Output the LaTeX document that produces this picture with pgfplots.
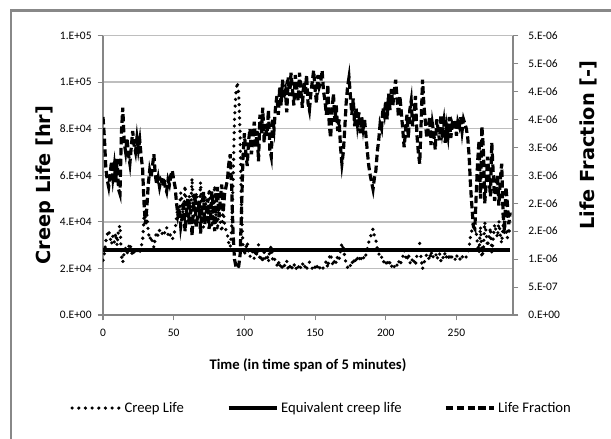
\documentclass[border=0pt]{standalone}
\usepackage{fontspec}
\setmainfont{Carlito}
\newfontfamily\verd{DejaVu Sans}
\usepackage{pgfplots}
\usepackage{pgfplotstable}
\pgfplotsset{compat=1.18}
\definecolor{axgray}{HTML}{868686}
\definecolor{gridgray}{HTML}{BEBEBE}
\definecolor{bordergray}{HTML}{888888}

\pgfplotstableread{
x cl lf
0 23500 3.542e-6
1 26300 3.167e-6
2 31700 2.625e-6
3 34500 2.417e-6
4 36400 2.292e-6
5 33300 2.500e-6
6 30300 2.750e-6
7 33900 2.458e-6
8 31300 2.667e-6
9 35100 2.375e-6
10 29900 2.792e-6
11 37000 2.250e-6
12 38500 2.167e-6
13 25600 3.250e-6
14 22500 3.708e-6
15 27000 3.083e-6
16 28600 2.917e-6
17 26300 3.167e-6
18 29000 2.875e-6
19 30800 2.708e-6
20 27800 3.000e-6
21 25300 3.292e-6
22 27400 3.042e-6
23 28600 2.917e-6
24 26300 3.167e-6
25 28200 2.958e-6
26 26700 3.125e-6
27 29400 2.833e-6
28 31700 2.625e-6
29 41700 2.000e-6
30 45000 1.625e-6
31 43500 1.917e-6
32 35700 2.333e-6
33 32300 2.583e-6
34 33900 2.458e-6
35 31300 2.667e-6
36 29000 2.875e-6
37 33300 2.500e-6
38 35700 2.333e-6
39 33900 2.458e-6
40 36400 2.292e-6
41 34500 2.417e-6
42 35100 2.375e-6
43 33900 2.458e-6
44 36400 2.292e-6
45 37700 2.208e-6
46 34500 2.417e-6
47 35700 2.333e-6
48 33300 2.500e-6
49 32300 2.583e-6
50 34500 2.417e-6
51 36400 2.292e-6
52 41700 2.000e-6
53 46500 1.792e-6
54 43500 1.917e-6
55 52600 1.583e-6
56 47600 1.750e-6
57 40800 2.042e-6
58 55600 1.500e-6
59 45500 1.833e-6
60 40000 2.083e-6
61 51300 1.625e-6
62 44400 1.875e-6
63 58800 1.417e-6
64 42600 1.958e-6
65 38500 2.167e-6
66 52600 1.583e-6
67 46500 1.792e-6
68 40800 2.042e-6
69 57100 1.458e-6
70 43500 1.917e-6
71 37700 2.208e-6
72 51300 1.625e-6
73 45500 1.833e-6
74 40000 2.083e-6
75 54100 1.542e-6
76 48800 1.708e-6
77 37700 2.208e-6
78 43500 1.917e-6
79 55600 1.500e-6
80 41700 2.000e-6
81 36400 2.292e-6
82 47600 1.750e-6
83 40000 2.083e-6
84 35700 2.333e-6
85 45500 1.833e-6
86 38500 2.167e-6
87 36400 2.292e-6
88 34500 2.417e-6
89 30800 2.708e-6
90 29000 2.875e-6
91 36400 2.292e-6
92 57100 1.458e-6
93 83300 1.000e-6
94 95200 0.875e-6
95 100000 0.833e-6
96 95200 0.875e-6
97 76900 1.083e-6
98 44400 1.875e-6
99 29400 2.833e-6
100 25600 3.250e-6
101 28600 2.917e-6
102 31300 2.667e-6
103 26700 3.125e-6
104 25000 3.333e-6
105 29000 2.875e-6
106 26300 3.167e-6
107 24100 3.458e-6
108 27800 3.000e-6
109 25300 3.292e-6
110 30300 2.750e-6
111 23300 3.583e-6
112 25600 3.250e-6
113 22500 3.708e-6
114 27000 3.083e-6
115 24400 3.417e-6
116 26000 3.208e-6
117 22700 3.667e-6
118 28200 2.958e-6
119 29400 2.833e-6
120 23800 3.500e-6
121 25000 3.333e-6
122 22500 3.708e-6
123 21300 3.917e-6
124 23300 3.583e-6
125 20400 4.083e-6
126 22200 3.750e-6
127 19800 4.208e-6
128 21500 3.875e-6
129 20800 4.000e-6
130 23000 3.625e-6
131 19600 4.250e-6
132 21300 3.917e-6
133 19200 4.333e-6
134 20600 4.042e-6
135 22200 3.750e-6
136 19400 4.292e-6
137 20400 4.083e-6
138 21700 3.833e-6
139 19200 4.333e-6
140 20800 4.000e-6
141 22500 3.708e-6
142 20000 4.167e-6
143 21100 3.958e-6
144 19400 4.292e-6
145 22000 3.792e-6
146 22700 3.667e-6
147 21100 3.958e-6
148 20000 4.167e-6
149 19000 4.375e-6
150 20600 4.042e-6
151 22000 3.792e-6
152 19400 4.292e-6
153 20400 4.083e-6
154 20000 4.167e-6
155 19000 4.375e-6
156 20800 4.000e-6
157 21700 3.833e-6
158 23300 3.583e-6
159 20200 4.125e-6
160 24400 3.417e-6
161 26300 3.167e-6
162 22700 3.667e-6
163 21100 3.958e-6
164 24100 3.458e-6
165 22200 3.750e-6
166 25300 3.292e-6
167 23800 3.500e-6
168 27800 3.000e-6
169 30800 2.708e-6
170 28600 2.917e-6
171 25000 3.333e-6
172 22000 3.792e-6
173 20400 4.083e-6
174 19600 4.250e-6
175 21300 3.917e-6
176 23300 3.583e-6
177 21500 3.875e-6
178 24700 3.375e-6
179 22500 3.708e-6
180 24400 3.417e-6
181 23000 3.625e-6
182 25600 3.250e-6
183 23500 3.542e-6
184 25000 3.333e-6
185 23800 3.500e-6
186 26000 3.208e-6
187 28600 2.917e-6
188 31300 2.667e-6
189 33300 2.500e-6
190 35100 2.375e-6
191 37000 2.250e-6
192 33900 2.458e-6
193 32300 2.583e-6
194 28600 2.917e-6
195 26700 3.125e-6
196 24400 3.417e-6
197 25000 3.333e-6
198 22500 3.708e-6
199 23300 3.583e-6
200 21700 3.833e-6
201 23800 3.500e-6
202 21100 3.958e-6
203 22700 3.667e-6
204 20600 4.042e-6
205 22200 3.750e-6
206 20800 4.000e-6
207 19800 4.208e-6
208 21500 3.875e-6
209 23500 3.542e-6
210 21300 3.917e-6
211 23000 3.625e-6
212 25000 3.333e-6
213 27800 3.000e-6
214 25300 3.292e-6
215 23300 3.583e-6
216 26300 3.167e-6
217 22700 3.667e-6
218 21700 3.833e-6
219 24700 3.375e-6
220 23000 3.625e-6
221 21300 3.917e-6
222 25600 3.250e-6
223 28600 2.917e-6
224 30800 2.708e-6
225 24400 3.417e-6
226 19800 4.208e-6
227 22200 3.750e-6
228 24100 3.458e-6
229 26300 3.167e-6
230 25000 3.333e-6
231 23500 3.542e-6
232 27400 3.042e-6
233 24400 3.417e-6
234 25600 3.250e-6
235 28200 2.958e-6
236 23800 3.500e-6
237 25000 3.333e-6
238 26700 3.125e-6
239 23300 3.583e-6
240 25300 3.292e-6
241 24100 3.458e-6
242 27000 3.083e-6
243 24700 3.375e-6
244 26000 3.208e-6
245 23500 3.542e-6
246 26300 3.167e-6
247 24400 3.417e-6
248 25000 3.333e-6
249 23800 3.500e-6
250 26000 3.208e-6
251 24100 3.458e-6
252 24700 3.375e-6
253 23500 3.542e-6
254 25300 3.292e-6
255 23800 3.500e-6
256 24400 3.417e-6
257 25000 3.333e-6
258 26300 3.167e-6
259 29400 2.833e-6
260 34000 2.292e-6
261 36500 1.917e-6
262 39500 1.583e-6
263 37000 1.542e-6
264 35500 2.167e-6
265 30300 2.750e-6
266 26700 3.125e-6
267 38000 2.083e-6
268 24700 3.375e-6
269 27800 3.000e-6
270 40000 2.000e-6
271 35700 2.333e-6
272 29400 2.833e-6
273 33300 2.500e-6
274 37500 2.125e-6
275 27000 3.083e-6
276 32800 2.542e-6
277 39000 2.042e-6
278 36000 2.250e-6
279 33300 2.500e-6
280 40500 1.958e-6
281 34500 2.417e-6
282 30800 2.708e-6
283 38500 1.792e-6
284 35000 1.500e-6
285 36400 2.292e-6
286 33000 2.000e-6
287 37500 1.625e-6
288 34000 1.833e-6
}\data

\tikzset{
  cldot/.style={black, line width=2.7pt, dash pattern=on 0pt off 5pt, line cap=round},
  eqline/.style={black, line width=3pt},
  lfdash/.style={black, line width=2.4pt, dash pattern=on 5.5pt off 2.6pt},
}

\pgfplotsset{
  common/.style={
    at={(77.25pt,93pt)}, anchor=south west,
    scale only axis, width=307.5pt, height=209.6pt,
    xmin=0, xmax=290,
    scaled y ticks=false, scaled x ticks=false,
    tick align=outside, major tick length=4pt,
    tick style={axgray, line width=0.8pt},
    axis line style={axgray, line width=0.9pt},
    ticklabel style={font=\fontsize{8.6}{10}\selectfont, black},
    /pgf/number format/assume math mode=true,
  },
}

\begin{document}
\begin{tikzpicture}[x=1pt,y=1pt]
\path[use as bounding box] (0,0) rectangle (458.25,329.25);
\begin{scope}
\clip (0,0) rectangle (458.25,329.25);
\draw[bordergray, line width=1.6pt] (8.25,-10) rectangle (470,321.4);
\end{scope}

\begin{axis}[
  common,
  ymin=0, ymax=120000,
  axis x line*=bottom, axis y line*=left,
  xtick={0,50,100,150,200,250},
  xticklabel style={yshift=-3pt},
  yticklabel style={xshift=-1pt},
  ytick={0,20000,40000,60000,80000,100000,120000},
  yticklabels={0.E+00,2.E+04,4.E+04,6.E+04,8.E+04,1.E+05,1.E+05},
  ymajorgrids, grid style={gridgray, line width=1.1pt},
  xlabel={Time (in time span of 5 minutes)},
  xlabel style={at={(axis description cs:0.5,-0.179)}, anchor=center, font=\fontsize{11}{13}\selectfont\bfseries},
  ylabel={Creep Life [hr]},
  ylabel style={at={(axis description cs:-0.1415,0.465)}, anchor=center, font=\verd\bfseries\fontsize{14.5}{16}\selectfont},
  legend style={at={(axis description cs:0.534,-0.333)}, anchor=center, legend columns=3, draw=none, fill=none,
    font=\fontsize{11}{13}\selectfont,
    /tikz/every even column/.append style={column sep=30pt}},
  legend image code/.code={\draw[#1] (0pt,0pt) -- (36pt,0pt);},
]
\addplot[cldot] table[x=x, y=cl] {\data};
\addlegendentry{Creep Life}
\addplot[eqline] coordinates {(0,28000) (288,28000)};
\addlegendentry{Equivalent creep life}
\addlegendimage{lfdash}
\addlegendentry{Life Fraction}
\end{axis}

\begin{axis}[
  common,
  ymin=0, ymax=5e-6,
  axis x line=none, axis y line*=right,
  yticklabel style={xshift=4pt},
  ytick={0,0.5e-6,1e-6,1.5e-6,2e-6,2.5e-6,3e-6,3.5e-6,4e-6,4.5e-6,5e-6},
  yticklabels={0.E+00,5.E-07,1.E-06,2.E-06,2.E-06,3.E-06,3.E-06,4.E-06,4.E-06,5.E-06,5.E-06},
  ylabel={Life Fraction [-]},
  ylabel style={at={(axis description cs:1.183,0.608)}, anchor=center, rotate=0, font=\verd\bfseries\fontsize{14.5}{16}\selectfont},
]
\addplot[lfdash] table[x=x, y=lf] {\data};
\end{axis}
\end{tikzpicture}
\end{document}
